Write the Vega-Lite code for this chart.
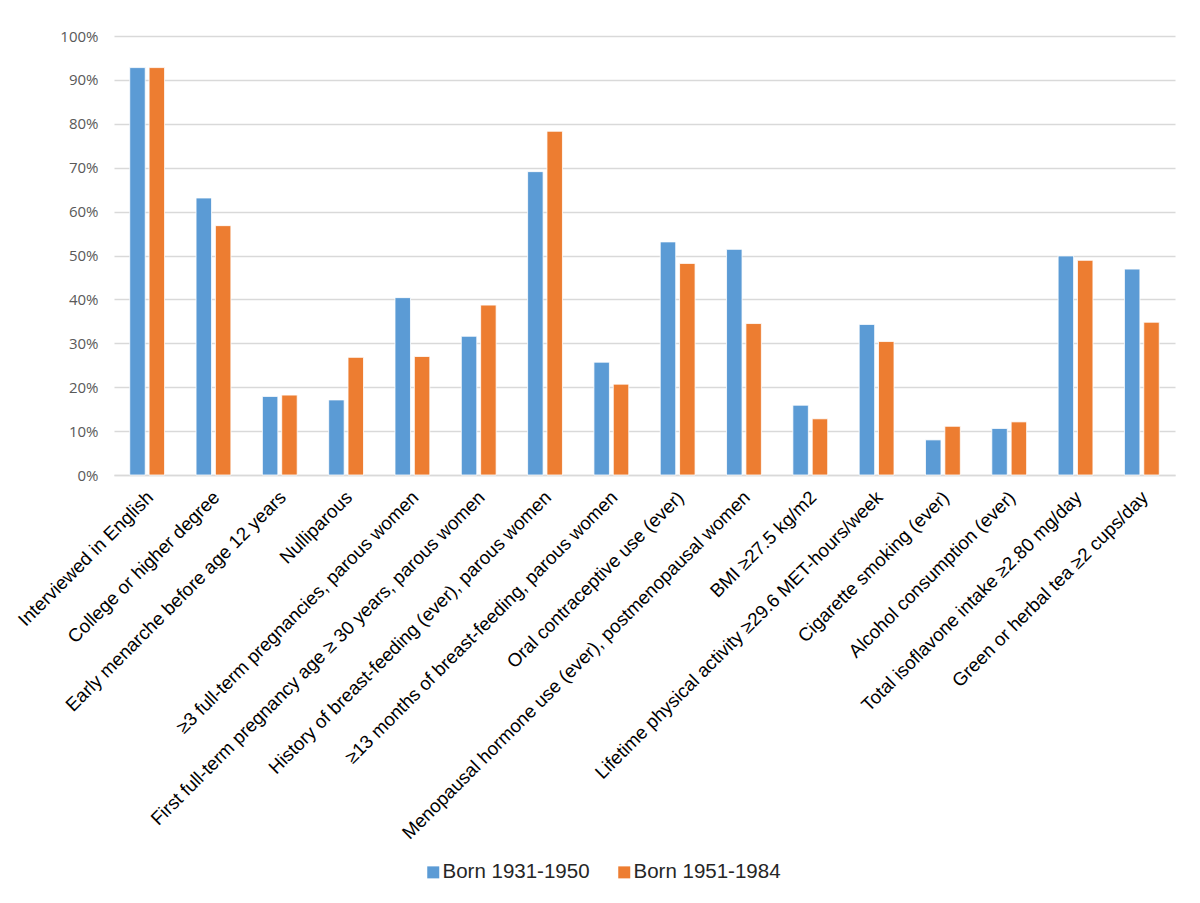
{
  "$schema": "https://vega.github.io/schema/vega-lite/v6.json",
  "width": 1061,
  "height": 439,
  "autosize": {"type": "none"},
  "padding": {"left": 114, "top": 36, "right": 25, "bottom": 428},
  "background": "white",
  "data": {
    "values": [
      {"category": "Interviewed in English", "cohort": "Born 1931-1950", "value": 0.928},
      {"category": "Interviewed in English", "cohort": "Born 1951-1984", "value": 0.928},
      {"category": "College or higher degree", "cohort": "Born 1931-1950", "value": 0.631},
      {"category": "College or higher degree", "cohort": "Born 1951-1984", "value": 0.568},
      {"category": "Early menarche before age 12 years", "cohort": "Born 1931-1950", "value": 0.179},
      {"category": "Early menarche before age 12 years", "cohort": "Born 1951-1984", "value": 0.182},
      {"category": "Nulliparous", "cohort": "Born 1931-1950", "value": 0.171},
      {"category": "Nulliparous", "cohort": "Born 1951-1984", "value": 0.268},
      {"category": "≥3 full-term pregnancies, parous women", "cohort": "Born 1931-1950", "value": 0.404},
      {"category": "≥3 full-term pregnancies, parous women", "cohort": "Born 1951-1984", "value": 0.270},
      {"category": "First full-term pregnancy age ≥ 30 years, parous women", "cohort": "Born 1931-1950", "value": 0.316},
      {"category": "First full-term pregnancy age ≥ 30 years, parous women", "cohort": "Born 1951-1984", "value": 0.387},
      {"category": "History of breast-feeding (ever), parous women", "cohort": "Born 1931-1950", "value": 0.691},
      {"category": "History of breast-feeding (ever), parous women", "cohort": "Born 1951-1984", "value": 0.783},
      {"category": "≥13 months of breast-feeding, parous women", "cohort": "Born 1931-1950", "value": 0.257},
      {"category": "≥13 months of breast-feeding, parous women", "cohort": "Born 1951-1984", "value": 0.207},
      {"category": "Oral contraceptive use (ever)", "cohort": "Born 1931-1950", "value": 0.531},
      {"category": "Oral contraceptive use (ever)", "cohort": "Born 1951-1984", "value": 0.482},
      {"category": "Menopausal hormone use (ever), postmenopausal women", "cohort": "Born 1931-1950", "value": 0.514},
      {"category": "Menopausal hormone use (ever), postmenopausal women", "cohort": "Born 1951-1984", "value": 0.345},
      {"category": "BMI ≥27.5 kg/m2", "cohort": "Born 1931-1950", "value": 0.159},
      {"category": "BMI ≥27.5 kg/m2", "cohort": "Born 1951-1984", "value": 0.128},
      {"category": "Lifetime physical activity ≥29.6 MET-hours/week", "cohort": "Born 1931-1950", "value": 0.343},
      {"category": "Lifetime physical activity ≥29.6 MET-hours/week", "cohort": "Born 1951-1984", "value": 0.304},
      {"category": "Cigarette smoking (ever)", "cohort": "Born 1931-1950", "value": 0.080},
      {"category": "Cigarette smoking (ever)", "cohort": "Born 1951-1984", "value": 0.111},
      {"category": "Alcohol consumption (ever)", "cohort": "Born 1931-1950", "value": 0.106},
      {"category": "Alcohol consumption (ever)", "cohort": "Born 1951-1984", "value": 0.121},
      {"category": "Total isoflavone intake ≥2.80 mg/day", "cohort": "Born 1931-1950", "value": 0.499},
      {"category": "Total isoflavone intake ≥2.80 mg/day", "cohort": "Born 1951-1984", "value": 0.489},
      {"category": "Green or herbal tea ≥2 cups/day", "cohort": "Born 1931-1950", "value": 0.469},
      {"category": "Green or herbal tea ≥2 cups/day", "cohort": "Born 1951-1984", "value": 0.348}
    ]
  },
  "mark": {"type": "bar", "stroke": "white", "strokeWidth": 0.8},
  "encoding": {
    "x": {
      "field": "category",
      "type": "nominal",
      "sort": null,
      "title": null,
      "scale": {"paddingInner": 0.475, "paddingOuter": 0.2375},
      "axis": {
        "labelAngle": -45,
        "labelAlign": "right",
        "labelBaseline": "middle",
        "labelFont": "Liberation Sans",
        "labelFontSize": 18.7,
        "labelColor": "#000000",
        "labelPadding": 19,
        "labelOffset": 3,
        "labelLimit": 0,
        "labelOverlap": false,
        "ticks": false,
        "domainColor": "#d9d9d9",
        "domainWidth": 1.3,
        "grid": false
      }
    },
    "xOffset": {
      "field": "cohort",
      "type": "nominal",
      "scale": {"paddingInner": 0.2, "paddingOuter": 0}
    },
    "y": {
      "field": "value",
      "type": "quantitative",
      "title": null,
      "scale": {"domain": [0, 1], "nice": false},
      "axis": {
        "format": ".0%",
        "values": [0, 0.1, 0.2, 0.3, 0.4, 0.5, 0.6, 0.7, 0.8, 0.9, 1],
        "labelFont": "Open Sans",
        "labelFontSize": 15,
        "labelColor": "#595959",
        "labelPadding": 16,
        "ticks": false,
        "domain": false,
        "gridColor": "#d9d9d9",
        "gridWidth": 1.3
      }
    },
    "color": {
      "field": "cohort",
      "type": "nominal",
      "title": null,
      "scale": {"domain": ["Born 1931-1950", "Born 1951-1984"], "range": ["#5b9bd5", "#ed7d31"]},
      "legend": {
        "orient": "none",
        "direction": "horizontal",
        "legendX": 309,
        "legendY": 826,
        "symbolType": "square",
        "symbolSize": 144,
        "symbolStrokeWidth": 0,
        "labelFont": "Liberation Sans",
        "labelFontSize": 20.5,
        "labelColor": "#262626",
        "columnPadding": 24,
        "labelOffset": -1
      }
    }
  },
  "config": {"view": {"stroke": null}}
}
